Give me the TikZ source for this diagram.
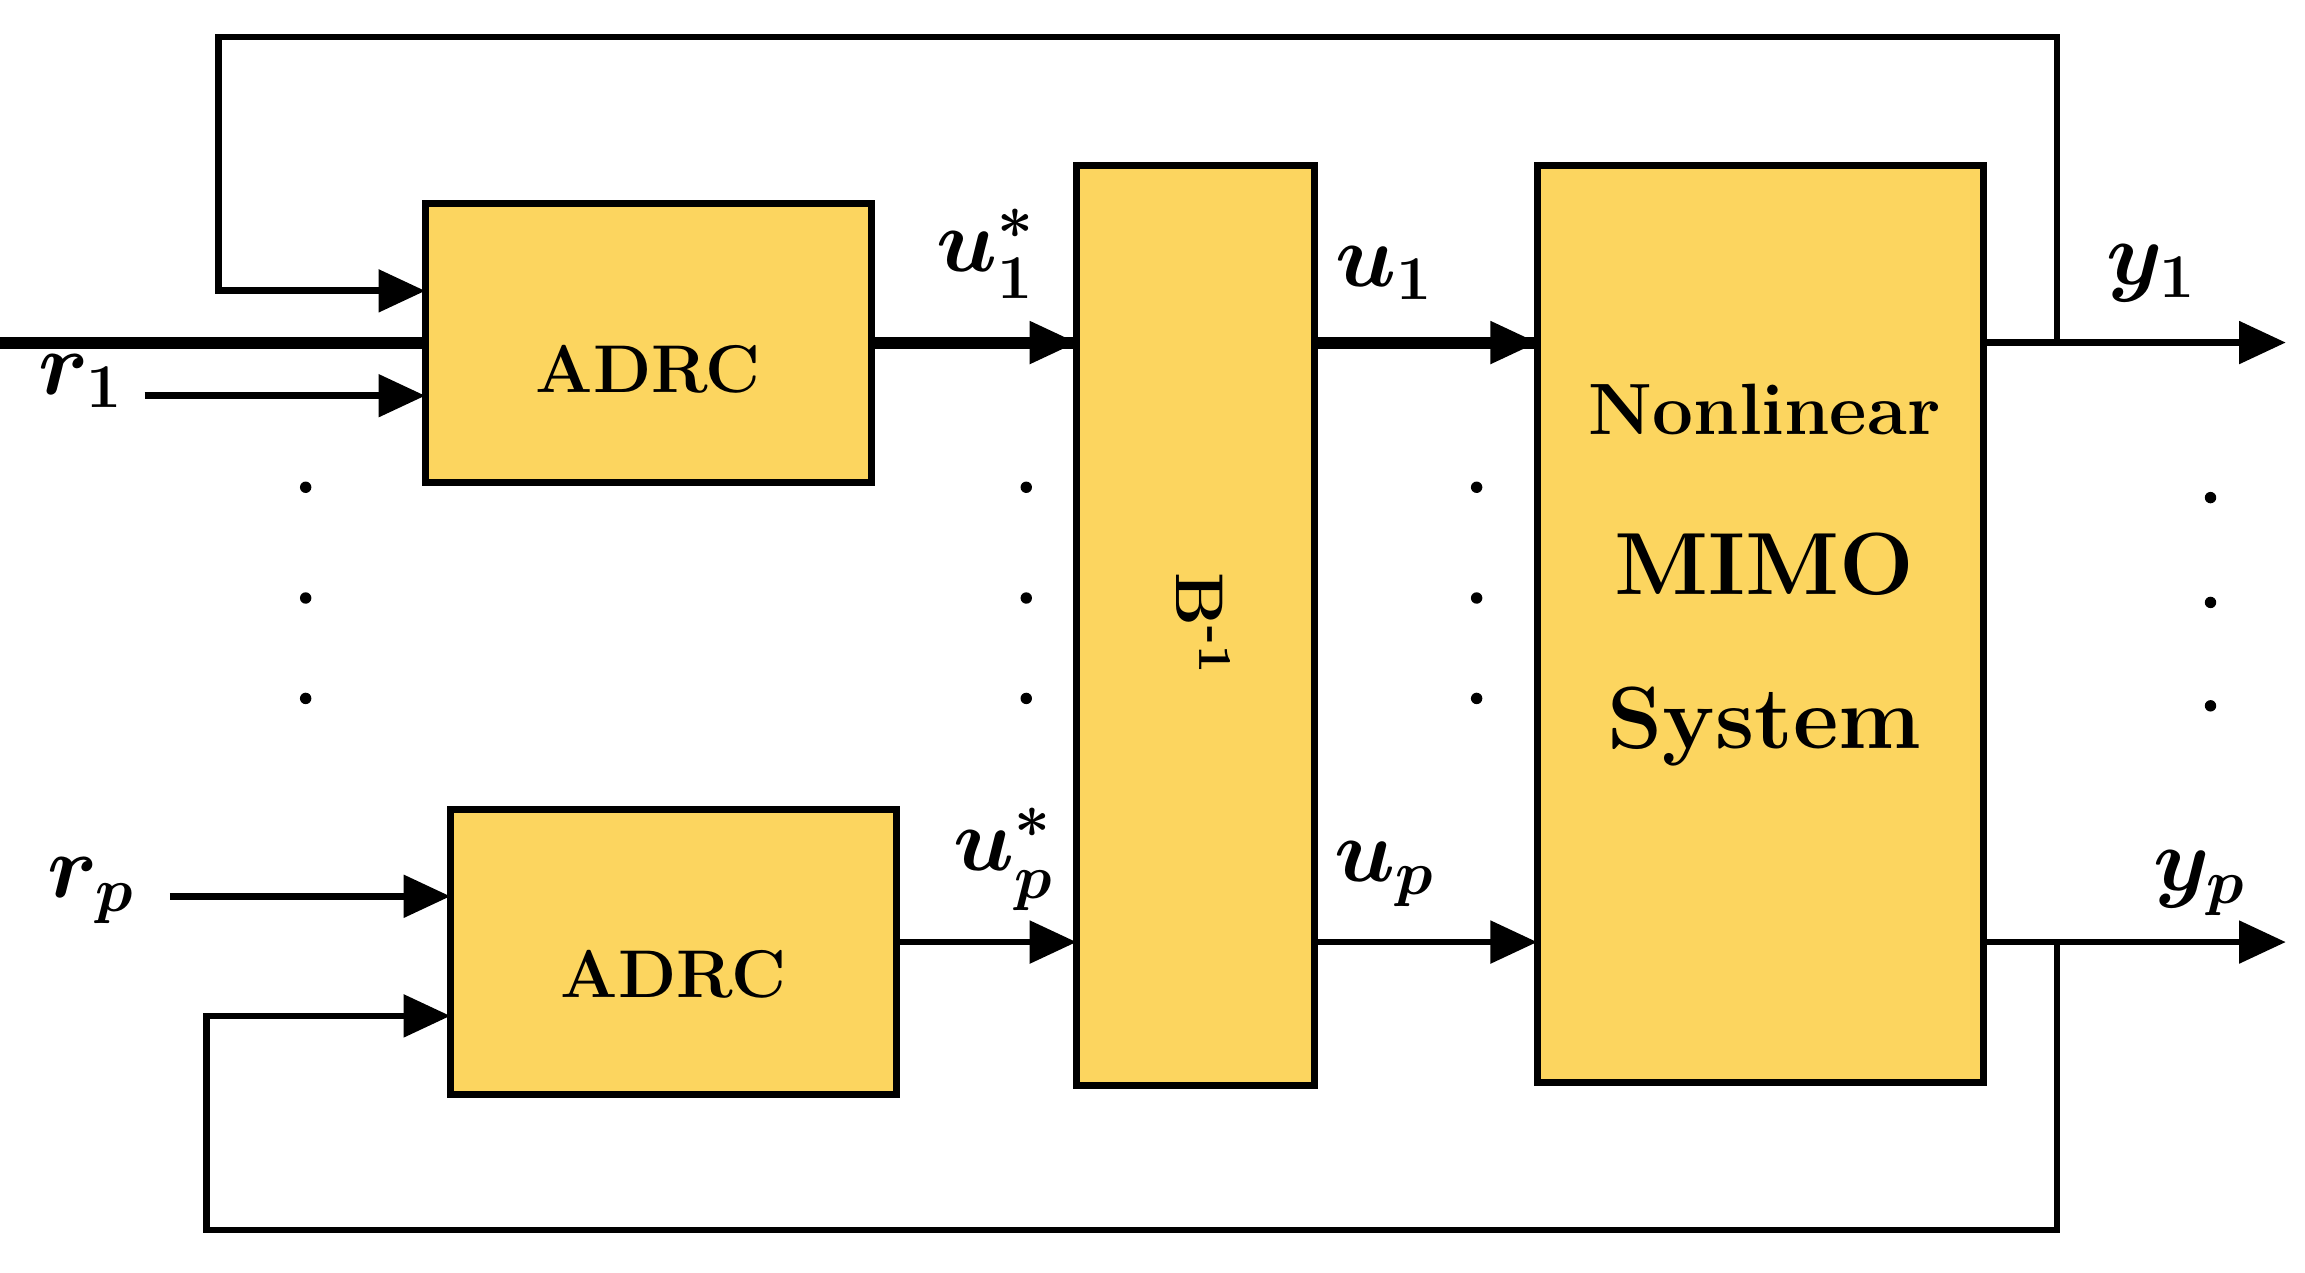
\documentclass[tikz,border=0pt]{standalone}
\usetikzlibrary{arrows.meta}
\begin{document}
\begin{tikzpicture}[x=0.01cm,y=-0.01cm,
 blk/.style={draw,line width=1.3pt,fill={rgb,255:red,252;green,213;blue,95},inner sep=0},
 ln/.style={line width=1.3pt},
 ar/.style={ln,-{Triangle[length=9pt,width=8pt]}},
 lab/.style={font=\fontsize{17}{17}\selectfont\boldmath},
 dot/.style={circle,fill,inner sep=0,minimum size=2.2pt}]
\useasboundingbox (0,0) rectangle (1561,862);
\node[blk,minimum width=302\pgflinewidth] (a1) at (439,232) {};
\path[blk] (288,138) rectangle (590,327);
\node[font=\bfseries\fontsize{13}{13}\selectfont] (t1) at (439,250) {ADRC};
\path[blk] (305,548) rectangle (607,741);
\node[font=\bfseries\fontsize{13}{13}\selectfont] (t2) at (456,660) {ADRC};
\path[blk] (729,112) rectangle (890,735);
\node[font=\bfseries\fontsize{13}{13}\selectfont,rotate=-90] (b) at (815,423) {B\textsuperscript{-1}};
\path[blk] (1041,112) rectangle (1343,733);
\node[font=\bfseries\fontsize{14}{14}\selectfont] (n1) at (1195,277) {Nonlinear};
\node[font=\bfseries\fontsize{17}{17}\selectfont] (n2) at (1195,382) {MIMO};
\node[font=\bfseries\fontsize{17}{17}\selectfont] (n3) at (1195,492) {System};
% coordinates
\coordinate (j1) at (1393,232);
\coordinate (j2) at (1393,638);
\coordinate (e1) at (1548,232);
\coordinate (e2) at (1548,638);
\coordinate (r1s) at (98,268);
\coordinate (r1e) at (288,268);
\coordinate (f1e) at (288,197);
\coordinate (rps) at (115,607);
\coordinate (rpe) at (305,607);
\coordinate (fpe) at (305,688);
% arrows
\draw[ar] (r1s) -- (r1e);
\draw[ar] (j1) -- (1393,25) -- (148,25) -- (148,197) -- (f1e);
\draw[ar] (rps) -- (rpe);
\draw[ar] (j2) -- (1393,833) -- (140,833) -- (140,688) -- (fpe);
\draw[ar] (593,232) -- (729,232);
\draw[ar] (607,638) -- (729,638);
\draw[ar] (890,232) -- (1041,232);
\draw[ar] (890,638) -- (1041,638);
\draw[ar] (1343,232) -- (e1);
\draw[ar] (1343,638) -- (e2);
% labels
\node[lab] (lr1) at (55,258) {$r_1$};
\node[lab] (lrp) at (62,603) {$r_p$};
\node[lab] (lu1s) at (668,172) {$u_1^*$};
\node[lab] (lups) at (680,582) {$u_p^*$};
\node[lab] (lu1) at (938,185) {$u_1$};
\node[lab] (lup) at (938,592) {$u_p$};
\node[lab] (ly1) at (1457,185) {$y_1$};
\node[lab] (lyp) at (1490,598) {$y_p$};
% dots
\foreach \x in {207,695,1000}{\foreach \y in {330,405,473}{\node[dot] at (\x,\y) {};}}
\foreach \y in {337,408,478}{\node[dot] at (1497,\y) {};}
\end{tikzpicture}
\end{document}
